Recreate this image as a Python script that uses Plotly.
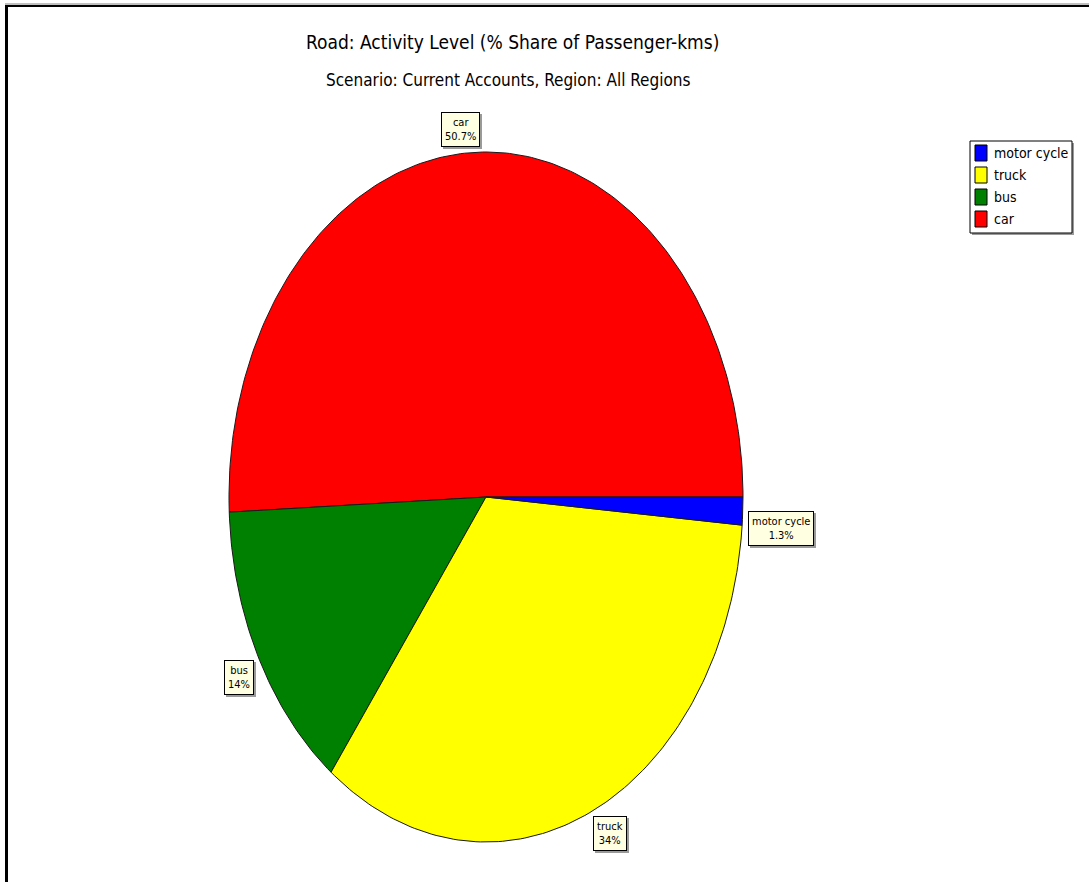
import numpy as np
import plotly.graph_objects as go

# Share of road passenger-kms by mode (%)
modes = ["car", "bus", "truck", "motor cycle"]
shares = [50.7, 14, 34, 1.3]
colors = ["#ff0000", "#008000", "#ffff00", "#0000ff"]

title_text = "Road: Activity Level (% Share of Passenger-kms)"
subtitle_text = "Scenario: Current Accounts, Region: All Regions"

W, H = 1089, 882
CX, CY = 486, 497          # pie centre (px)
RX, RY = 257, 345          # pie radii (px) - an elliptical pie
FONT = "DejaVu Sans Condensed, Liberation Sans, Arial, sans-serif"

fig = go.Figure()

# Wedges: start at 3 o'clock, run counter-clockwise
total = float(sum(shares))
start = 0.0
label_anns = []
for name, val, col in zip(modes, shares, colors):
    sweep = 2 * np.pi * val / total
    n = max(4, int(np.ceil(sweep / (2 * np.pi) * 360)))
    t = np.linspace(start, start + sweep, n + 1)
    xs = np.concatenate([[0.0], np.cos(t), [0.0]])
    ys = np.concatenate([[0.0], np.sin(t), [0.0]])
    fig.add_trace(go.Scatter(
        x=xs, y=ys, mode="lines", fill="toself", fillcolor=col,
        line=dict(color="#1a1a1a", width=1), name=name,
        showlegend=False, hoverinfo="name",
    ))
    mid = start + sweep / 2
    label_anns.append(dict(c=np.cos(mid), s=np.sin(mid),
                           text=f"{name}<br>{val:g}%"))
    start += sweep

annotations = []
for a in label_anns:
    xa = "left" if a["c"] > 0 else "right"
    ya = "bottom" if a["s"] > 0 else "top"
    dx, dy = 5 * a["c"], 5 * a["s"]
    common = dict(x=a["c"], y=a["s"], xref="x", yref="y", text=a["text"],
                  showarrow=False, xanchor=xa, yanchor=ya,
                  borderwidth=1, borderpad=3)
    # drop shadow, then the label itself
    annotations.append(dict(common, xshift=dx + 2, yshift=dy - 2,
                            font=dict(family=FONT, size=11, color="#9a9a9a"),
                            bgcolor="#9a9a9a", bordercolor="#9a9a9a"))
    annotations.append(dict(common, xshift=dx, yshift=dy,
                            font=dict(family=FONT, size=11, color="#000000"),
                            bgcolor="#ffffe1", bordercolor="#000000"))

annotations.append(dict(
    x=512 / W, y=1 - 42 / H, xref="paper", yref="paper", text=title_text,
    showarrow=False, xanchor="center", yanchor="middle",
    font=dict(family=FONT, size=19, color="#000000"),
))
annotations.append(dict(
    x=508 / W, y=1 - 80 / H, xref="paper", yref="paper", text=subtitle_text,
    showarrow=False, xanchor="center", yanchor="middle",
    font=dict(family=FONT, size=17, color="#000000"),
))


def px(x):
    return x / W


def py(y):
    return 1 - y / H


# Frame lines along the top and left edge
shapes = [
    dict(type="line", xref="paper", yref="paper", x0=px(5), x1=1, y0=py(4), y1=py(4),
         line=dict(color="#808080", width=1)),
    dict(type="line", xref="paper", yref="paper", x0=px(5), x1=1, y0=py(6), y1=py(6),
         line=dict(color="#000000", width=2)),
    dict(type="line", xref="paper", yref="paper", x0=px(6.5), x1=px(6.5), y0=0, y1=py(5),
         line=dict(color="#000000", width=3)),
]

# Legend box (reverse drawing order), with a drop shadow
LX0, LY0, LX1, LY1 = 970, 141, 1072, 233
shapes.append(dict(type="rect", xref="paper", yref="paper",
                   x0=px(LX0 + 2), x1=px(LX1 + 2), y0=py(LY0 + 2), y1=py(LY1 + 2),
                   fillcolor="#9a9a9a", line=dict(width=0), layer="above"))
shapes.append(dict(type="rect", xref="paper", yref="paper",
                   x0=px(LX0), x1=px(LX1), y0=py(LY0), y1=py(LY1),
                   fillcolor="#ffffff", line=dict(color="#000000", width=1), layer="above"))
for i, (name, col) in enumerate(list(zip(modes, colors))[::-1]):
    yc = 153 + 22 * i
    shapes.append(dict(type="rect", xref="paper", yref="paper",
                       x0=px(975), x1=px(987), y0=py(yc - 8), y1=py(yc + 8),
                       fillcolor=col, line=dict(color="#000000", width=1), layer="above"))
    annotations.append(dict(
        x=px(992), y=py(yc), xref="paper", yref="paper", text=name,
        showarrow=False, xanchor="left", yanchor="middle",
        font=dict(family=FONT, size=14, color="#000000"),
    ))

fig.update_layout(
    width=W, height=H,
    margin=dict(l=0, r=0, t=0, b=0),
    paper_bgcolor="#ffffff", plot_bgcolor="#ffffff",
    xaxis=dict(range=[-CX / RX, (W - CX) / RX], visible=False, fixedrange=True),
    yaxis=dict(range=[(CY - H) / RY, CY / RY], visible=False, fixedrange=True),
    showlegend=False,
    annotations=annotations,
    shapes=shapes,
)

fig.write_html("out.html")
